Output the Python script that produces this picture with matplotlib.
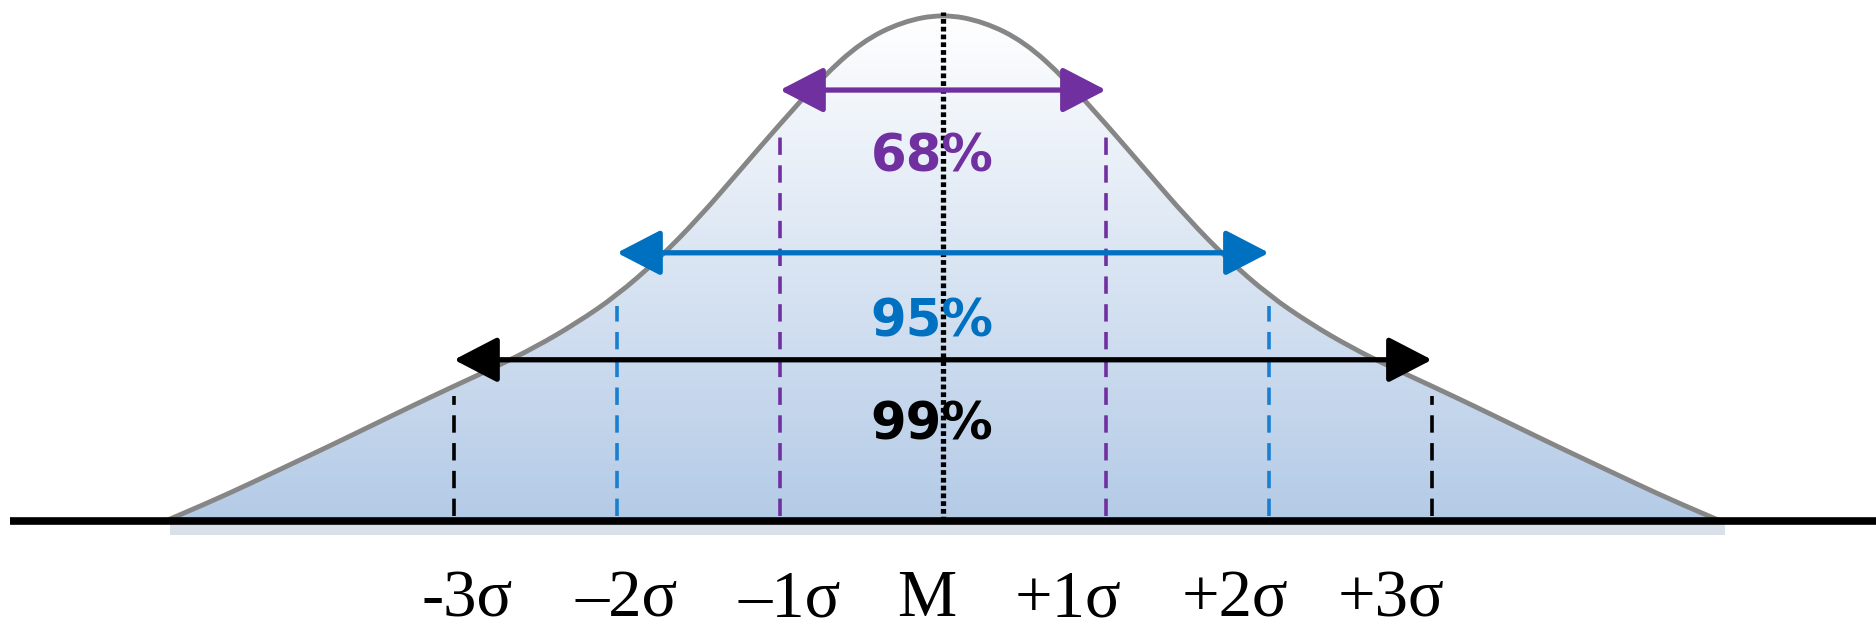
import numpy as np
import matplotlib.pyplot as plt
from matplotlib.colors import LinearSegmentedColormap
from matplotlib.patches import FancyArrowPatch, PathPatch
from matplotlib.path import Path

plt.rcParams['lines.scale_dashes'] = False

# bell curve (x in sigma units, height relative to peak)
curve_x = [-4.77, -4.5, -4.25, -4.0, -3.75, -3.5, -3.25, -3.0, -2.75, -2.5, -2.25,
           -2.0, -1.75, -1.5, -1.25, -1.0, -0.75, -0.5, -0.25, 0.0,
           0.25, 0.5, 0.75, 1.0, 1.25, 1.5, 1.75, 2.0, 2.25, 2.5, 2.75,
           3.0, 3.25, 3.5, 3.75, 4.0, 4.25, 4.5, 4.77]
curve_h = [0.0, 0.037, 0.074, 0.112, 0.150, 0.189, 0.228, 0.266, 0.303, 0.343, 0.39,
           0.445, 0.515, 0.597, 0.69, 0.783, 0.872, 0.945, 0.985, 1.0,
           0.985, 0.945, 0.872, 0.783, 0.69, 0.597, 0.515, 0.445, 0.39, 0.343, 0.303,
           0.266, 0.228, 0.189, 0.150, 0.112, 0.074, 0.037, 0.0]

sigma_ticks = [-3, -2, -1, 0, 1, 2, 3]
tick_labels = ['-3σ', '–2σ', '–1σ', 'M', '+1σ', '+2σ', '+3σ']

bands = [1, 2, 3]
band_labels = ['68%', '95%', '99%']
band_colors = ['#7030A0', '#0070C0', '#000000']
dash_colors = ['#7030A0', '#1a7fd0', '#000000']

# layout
arrow_y = [0.85, 0.529, 0.318]
label_y = [0.716, 0.392, 0.189]
tick_shift = [0.08, 0.06, 0.06, -0.10, -0.23, -0.21, -0.25]

fig = plt.figure(figsize=(18.76, 6.29), dpi=100)
ax = fig.add_axes([0, 0, 1, 1])
ax.set_xlim(-5.785, 5.724)
ax.set_ylim(-0.213, 1.0276)
ax.axis('off')

cx = np.array(curve_x)
ch = np.array(curve_h)
pts = np.column_stack([cx, ch])

# smooth quadratic bezier through the read points
verts = [pts[0]]
codes = [Path.MOVETO]
for i in range(1, len(pts) - 2):
    verts += [pts[i], (pts[i] + pts[i + 1]) / 2]
    codes += [Path.CURVE3, Path.CURVE3]
verts += [pts[-2], pts[-1]]
codes += [Path.CURVE3, Path.CURVE3]
curve_path = Path(verts, codes)
fill_path = Path(verts + [pts[0]], codes + [Path.CLOSEPOLY])

# gradient fill under the curve
blues = LinearSegmentedColormap.from_list('bl', ['#b3cae6', '#ffffff'])
grad = np.linspace(0, 1, 256).reshape(-1, 1)
clip = PathPatch(fill_path, facecolor='none', edgecolor='none')
ax.add_patch(clip)
im = ax.imshow(grad, cmap=blues, aspect='auto', origin='lower',
               extent=[cx.min(), cx.max(), -0.01, 1.0], zorder=1)
im.set_clip_path(clip)

# faint shadow under the baseline
ax.fill_between([cx.min() + 0.03, cx.max() + 0.03], -0.028, -0.005,
                color='#c9d3e0', alpha=0.7, lw=0, zorder=1)

ax.add_patch(PathPatch(curve_path, facecolor='none', edgecolor='#868686',
                       lw=3.5, zorder=3, capstyle='round'))

# baseline
ax.plot([-5.724, 5.724], [0, 0], color='black', lw=5.5, zorder=5, solid_capstyle='butt')

# dashed sigma lines
for b, col in zip(bands, dash_colors):
    for s in (-b, b):
        top = np.interp(s, cx, ch) - 0.02
        ax.plot([s, s], [0.01, top], color=col, lw=2.6, zorder=4,
                dashes=(12.5, 7.5))

# mean line
ax.plot([0, 0], [0, 1.004], color='black', lw=3.8, zorder=4, dashes=(3.4, 2.2))

# range arrows and percentages
for b, lab, col, ay, ly in zip(bands, band_labels, band_colors, arrow_y, label_y):
    arr = FancyArrowPatch((-b, ay), (b, ay),
                          arrowstyle='<|-|>,head_length=2.7,head_width=1.4',
                          mutation_scale=10, color=col, lw=3.8,
                          shrinkA=0, shrinkB=0, zorder=6)
    ax.add_patch(arr)
    ax.text(-0.067, ly, lab, color=col, fontsize=37, fontweight='bold',
            ha='center', va='center', family='DejaVu Sans', zorder=7)

for s, lab, dx in zip(sigma_ticks, tick_labels, tick_shift):
    ax.text(s + dx, -0.188, lab, fontsize=48, family='Liberation Serif',
            ha='center', va='baseline', color='black')

fig.savefig('out.png', dpi=100)
